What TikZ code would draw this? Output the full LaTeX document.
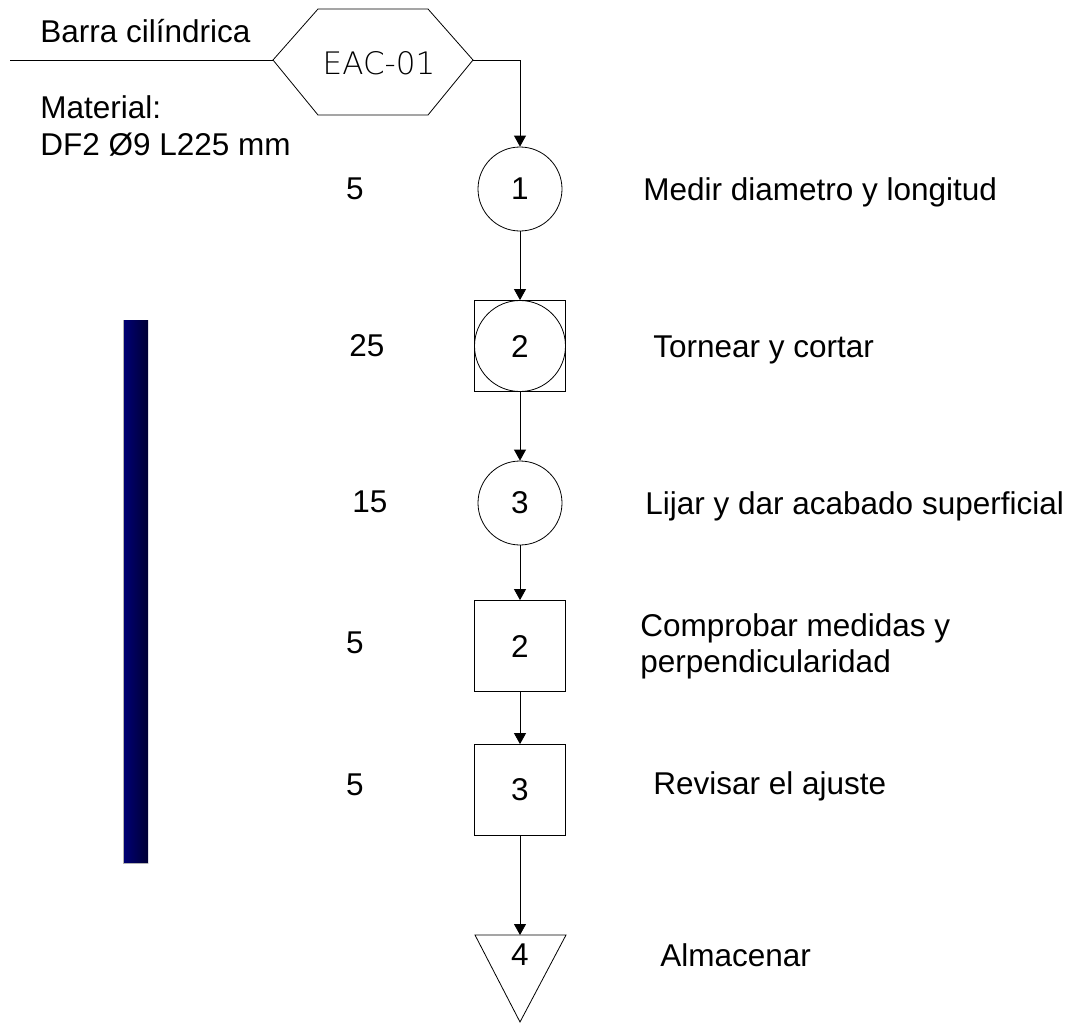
\documentclass[tikz,border=0pt]{standalone}
\usepackage{fontspec}
\setmainfont{Liberation Sans}
\newfontfamily\cadfont{DejaVuSans-ExtraLight.ttf}
\usetikzlibrary{arrows.meta}
\definecolor{barleft}{RGB}{0,0,118}
\definecolor{barright}{RGB}{0,0,52}
\begin{document}
\begin{tikzpicture}[x=1pt,y=-1pt,line width=0.8pt,
  txt/.style={font=\fontsize{31.5}{36}\selectfont,inner sep=0pt},
  oper/.style={draw,circle,minimum size=84pt,inner sep=0pt,font=\fontsize{31.5}{36}\selectfont},
  operbig/.style={draw,circle,minimum size=91pt,inner sep=0pt,font=\fontsize{31.5}{36}\selectfont},
  insp/.style={draw,rectangle,minimum size=91pt,inner sep=0pt,font=\fontsize{31.5}{36}\selectfont},
  flow/.style={-{Triangle[length=11pt,width=12pt]}}]
\useasboundingbox (0,0) rectangle (1077,1023);

% material bar
\shade[left color=barleft,right color=barright] (123,320) rectangle (148,863);
\draw[gray!60,line width=0.6pt] (123,320) -- (123,863) -- (148,863);

% raw material entry: hexagon
\coordinate (hxl) at (273,60);
\coordinate (hxr) at (473,60);
\draw (hxl) -- (318,9) -- (428,9) -- (hxr) -- (428,115) -- (318,115) -- cycle;
\node[inner sep=0pt,font=\cadfont\fontsize{31}{34}\selectfont] (code) at (379,63) {EAC-01};
\coordinate (feed) at (10,60);
\draw (feed) -- (hxl);
\node[txt,anchor=base west] (barra) at (40,42) {Barra cilíndrica};
\node[txt,anchor=base west] (mat1) at (40,118) {Material:};
\node[txt,anchor=base west] (mat2) at (40,155) {DF2 Ø9 L225 mm};

% process steps
\node[oper] (o1) at (520,189) {1};
\node[insp] (c2) at (520,346) {};
\node[operbig] (o2) at (520,346) {2};
\node[oper] (o3) at (520,503) {3};
\node[insp] (i2) at (520,646) {2};
\node[insp] (i3) at (520,790) {3};
\coordinate (s4) at (520,935);
\draw (475,935) -- (566,935) -- (520,1022) -- cycle;
\node[txt] (n4) at (520,955) {4};

% connectors
\draw[flow] (hxr) -| (o1.north);
\draw[flow] (o1.south) -- (c2.north);
\draw[flow] (c2.south) -- (o3.north);
\draw[flow] (o3.south) -- (i2.north);
\draw[flow] (i2.south) -- (i3.north);
\draw[flow] (i3.south) -- (s4);

% times
\node[txt] (t1) at (355,189) {5};
\node[txt] (t2) at (367,346) {25};
\node[txt] (t3) at (370,502) {15};
\node[txt] (t4) at (355,643) {5};
\node[txt] (t5) at (355,785) {5};

% descriptions
\node[txt,anchor=base west] (d1) at (643,200) {Medir diametro y longitud};
\node[txt,anchor=base west] (d2) at (653,357) {Tornear y cortar};
\node[txt,anchor=base west] (d3) at (645,514) {Lijar y dar acabado superficial};
\node[txt,anchor=base west] (d4) at (640,636) {Comprobar medidas y};
\node[txt,anchor=base west] (d4b) at (640,672) {perpendicularidad};
\node[txt,anchor=base west] (d5) at (653,794) {Revisar el ajuste};
\node[txt,anchor=base west] (d6) at (660,966) {Almacenar};
\end{tikzpicture}
\end{document}
